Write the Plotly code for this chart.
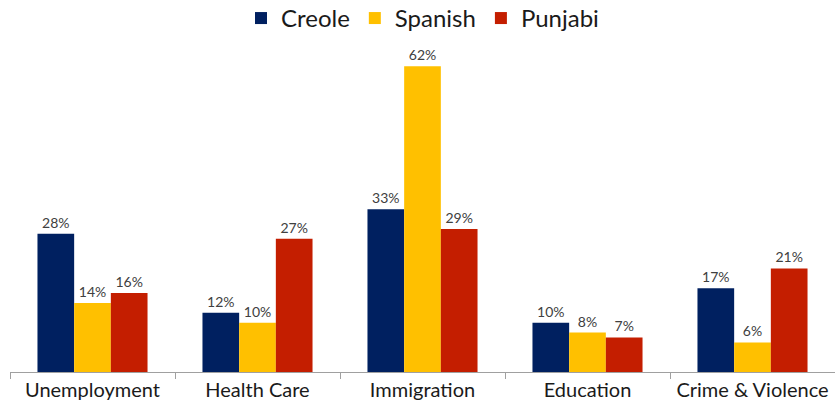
import plotly.graph_objects as go

categorias = ["Unemployment", "Health Care", "Immigration", "Education", "Crime & Violence"]
creole = [28, 12, 33, 10, 17]
spanish = [14, 10, 62, 8, 6]
punjabi = [16, 27, 29, 7, 21]

series = [
    ("Creole", creole, "#002060"),
    ("Spanish", spanish, "#FFC000"),
    ("Punjabi", punjabi, "#C41E00"),
]

fig = go.Figure()
for nome, valores, cor in series:
    fig.add_trace(go.Bar(
        x=categorias,
        y=valores,
        name=nome,
        marker=dict(color=cor, line=dict(width=0)),
        texttemplate="%{y}%",
        textposition="outside",
        cliponaxis=False,
        textfont=dict(family="Lato", size=14, color="#404040"),
    ))

fig.update_layout(
    width=835,
    height=410,
    margin=dict(l=10, r=0, t=40, b=38, autoexpand=False),
    paper_bgcolor="white",
    plot_bgcolor="white",
    barmode="group",
    bargap=0.333,
    bargroupgap=0,
    font=dict(family="Lato", color="#1a1a1a"),
    showlegend=True,
    legend=dict(
        orientation="h",
        x=0.5, xanchor="center",
        yref="container",
        y=0.955, yanchor="middle",
        font=dict(size=24, color="#1a1a1a"),
        itemwidth=30,
        traceorder="normal",
    ),
    xaxis=dict(
        automargin=False,
        showline=True,
        linecolor="#a0a0a0",
        linewidth=1,
        ticks="outside",
        tickson="boundaries",
        ticklen=6,
        tickcolor="#a0a0a0",
        tickangle=0,
        tickfont=dict(size=20, color="#1a1a1a"),
        showgrid=False,
    ),
    yaxis=dict(
        automargin=False,
        range=[0, 67.3],
        visible=False,
        showgrid=False,
    ),
)

# tira a margem padrão do body para a figura ocupar a janela inteira
fig.write_html(
    "out.html",
    config={"displayModeBar": False},
    post_script="document.body.style.margin='0';",
)
